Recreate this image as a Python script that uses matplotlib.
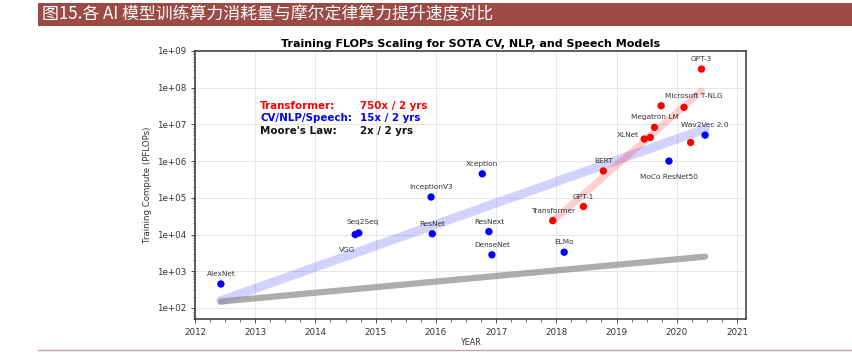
import matplotlib
matplotlib.use("Agg")
import matplotlib.pyplot as plt
from matplotlib.ticker import FuncFormatter, AutoMinorLocator, LogLocator
from matplotlib.patches import Rectangle
from matplotlib.lines import Line2D

plt.rcParams['font.family'] = ['DejaVu Sans']

# model points
names = ['AlexNet', 'VGG', 'Seq2Seq', 'InceptionV3', 'ResNet', 'Xception', 'ResNext',
         'DenseNet', 'ELMo', 'Transformer', 'GPT-1', 'BERT', 'MoCo ResNet50', 'XLNet', '',
         'Megatron LM', '', 'Microsoft T-NLG', '', 'GPT-3', 'Wav2Vec 2.0']
years = [2012.43, 2014.66, 2014.72, 2015.92, 2015.94, 2016.77, 2016.88,
         2016.93, 2018.13, 2017.94, 2018.45, 2018.78, 2019.87, 2019.46, 2019.56,
         2019.63, 2019.74, 2020.12, 2020.23, 2020.41, 2020.47]
pflops = [450, 1.0e4, 1.1e4, 1.05e5, 1.05e4, 4.5e5, 1.2e4,
          2.8e3, 3.3e3, 2.4e4, 5.8e4, 5.4e5, 1.0e6, 4.0e6, 4.4e6,
          8.3e6, 3.2e7, 2.9e7, 3.2e6, 3.2e8, 5.1e6]
groups = ['b', 'b', 'b', 'b', 'b', 'b', 'b',
          'b', 'b', 'r', 'r', 'r', 'b', 'r', 'r',
          'r', 'r', 'r', 'r', 'r', 'b']

# trend line end points
blue_x, blue_y = [2012.43, 2020.47], [158, 7.5e6]
red_x, red_y = [2017.94, 2020.41], [2.3e4, 8.1e7]
gray_x, gray_y = [2012.43, 2020.47], [150, 2500]

# label offsets (points): default above
offsets = {'VGG': (-6, -9, 'center'), 'Seq2Seq': (3, 6, 'center'),
           'MoCo ResNet50': (0, -9, 'center'), 'XLNet': (-4, 1, 'right'),
           'Microsoft T-NLG': (7, 6, 'center')}

fig = plt.figure(figsize=(8.53, 3.57), dpi=100)

# header band
fig.patches.append(Rectangle((0.0445, 0.927), 0.96, 0.065, transform=fig.transFigure,
                             facecolor='#9c4a46', edgecolor='none'))
fig.text(0.049, 0.959, '图15.各 AI 模型训练算力消耗量与摩尔定律算力提升速度对比',
         color='white', fontsize=12.2, va='center', ha='left',
         family=['Noto Sans CJK SC', 'DejaVu Sans'])
fig.lines.append(Line2D([0.045, 1.0], [0.02, 0.02], transform=fig.transFigure,
                        color='#c9a3a3', lw=1.0))

ax = fig.add_axes([0.2286, 0.1064, 0.646, 0.751])
ax.set_yscale('log')

ax.plot(blue_x, blue_y, color='#3333ff', alpha=0.22, lw=6.5, solid_capstyle='round', zorder=2)
ax.plot(red_x, red_y, color='#ff2222', alpha=0.22, lw=5, solid_capstyle='round', zorder=2)
ax.plot(gray_x, gray_y, color='#8a8a8a', alpha=0.7, lw=4.5, solid_capstyle='round', zorder=2)

cols = {'b': '#0000ff', 'r': '#ff0000'}
ax.scatter(years, pflops, c=[cols[g] for g in groups], s=28, zorder=3, edgecolors='none')

for n, x, y in zip(names, years, pflops):
    if not n:
        continue
    dx, dy, ha = offsets.get(n, (0, 5, 'center'))
    va = 'bottom' if dy > 0 else ('top' if dy < -2 else 'center')
    ax.annotate(n, (x, y), xytext=(dx, dy), textcoords='offset points',
                ha=ha, va=va, fontsize=5.3, color='#333333', zorder=4)

# rate legend text
rows = [('Transformer:', '750x / 2 yrs', '#ff0000'),
        ('CV/NLP/Speech:', '15x / 2 yrs', '#0000ff'),
        ("Moore's Law:", '2x / 2 yrs', '#111111')]
for i, (a, b, c) in enumerate(rows):
    yy = 0.795 - i * 0.047
    ax.text(0.118, yy, a, transform=ax.transAxes, color=c, fontsize=7.4,
            fontweight='bold', va='center')
    ax.text(0.3, yy, b, transform=ax.transAxes, color=c, fontsize=7.4,
            fontweight='bold', va='center')

ax.set_xlim(2012.0, 2021.15)
ax.set_ylim(50, 1e9)
ax.set_xticks(range(2012, 2022))
ax.xaxis.set_minor_locator(AutoMinorLocator(4))
ax.yaxis.set_major_locator(LogLocator(base=10, numticks=20))
ax.yaxis.set_major_formatter(FuncFormatter(lambda v, p: f'{v:.0e}'))
ax.tick_params(labelsize=6.3, colors='#333333', length=3, width=0.6)
ax.tick_params(which='minor', length=1.8, width=0.4)
ax.grid(True, which='major', color='#e6e6e6', lw=0.7)
ax.set_axisbelow(True)
for s in ax.spines.values():
    s.set_color('#444444')
    s.set_linewidth(1.2)

ax.set_title('Training FLOPs Scaling for SOTA CV, NLP, and Speech Models',
             fontsize=8.0, fontweight='bold', pad=3)
ax.set_xlabel('YEAR', fontsize=5.8, color='#333333', labelpad=1)
ax.set_ylabel('Training Compute (PFLOPs)', fontsize=6.2, color='#333333', labelpad=3)

fig.savefig('out.png', dpi=100)
